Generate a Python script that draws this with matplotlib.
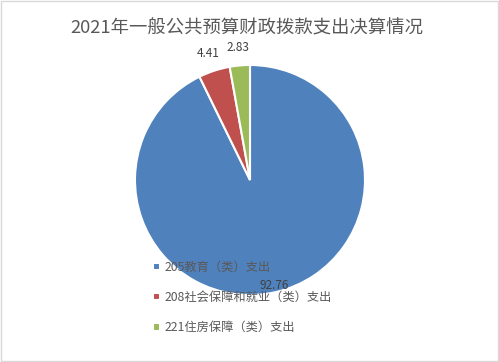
import matplotlib
matplotlib.use("Agg")
import matplotlib.pyplot as plt
import numpy as np

plt.rcParams['font.family'] = ['Noto Sans CJK SC', 'DejaVu Sans']

# data
categories = ["205教育（类）支出", "208社会保障和就业（类）支出", "221住房保障（类）支出"]
values = [92.76, 4.41, 2.83]
colors = ["#4F81BD", "#C0504D", "#9BBB59"]
label_dist = [0.94, 1.16, 1.16]
text_col = "#595959"

fig = plt.figure(figsize=(4.99, 3.62), dpi=100)

# border of the chart area
fig.patches.append(plt.Rectangle((0.002, 0.003), 0.996, 0.994, transform=fig.transFigure,
                                 fill=False, edgecolor="#D9D9D9", linewidth=1))

fig.text(0.495, 1 - 28 / 362, "2021年一般公共预算财政拨款支出决算情况",
         ha="center", va="center", fontsize=13.2, color=text_col)

# pie centred at (250, 180) px, radius 115 px
r = 115
ax = fig.add_axes([(250 - r) / 499, (362 - 180 - r) / 362, 2 * r / 499, 2 * r / 362])
wedges, _ = ax.pie(values, colors=colors, startangle=90, counterclock=False,
                   radius=1, wedgeprops=dict(edgecolor="white", linewidth=1.5))
ax.set_xlim(-1, 1)
ax.set_ylim(-1, 1)
ax.set_aspect("equal")
ax.axis("off")

for w, v, d in zip(wedges, values, label_dist):
    ang = np.deg2rad((w.theta1 + w.theta2) / 2)
    ax.text(d * np.cos(ang), d * np.sin(ang), f"{v:.2f}", ha="center", va="center",
            fontsize=8.5, color="#404040")

fig.legend(wedges, categories, loc="upper left", bbox_to_anchor=(153 / 499, 1 - 261 / 362),
           frameon=False, fontsize=8.8, labelcolor=text_col, handlelength=0.55, handleheight=0.55,
           handletextpad=0.4, labelspacing=1.4, borderpad=0, borderaxespad=0)

fig.savefig("out.png", dpi=100)
